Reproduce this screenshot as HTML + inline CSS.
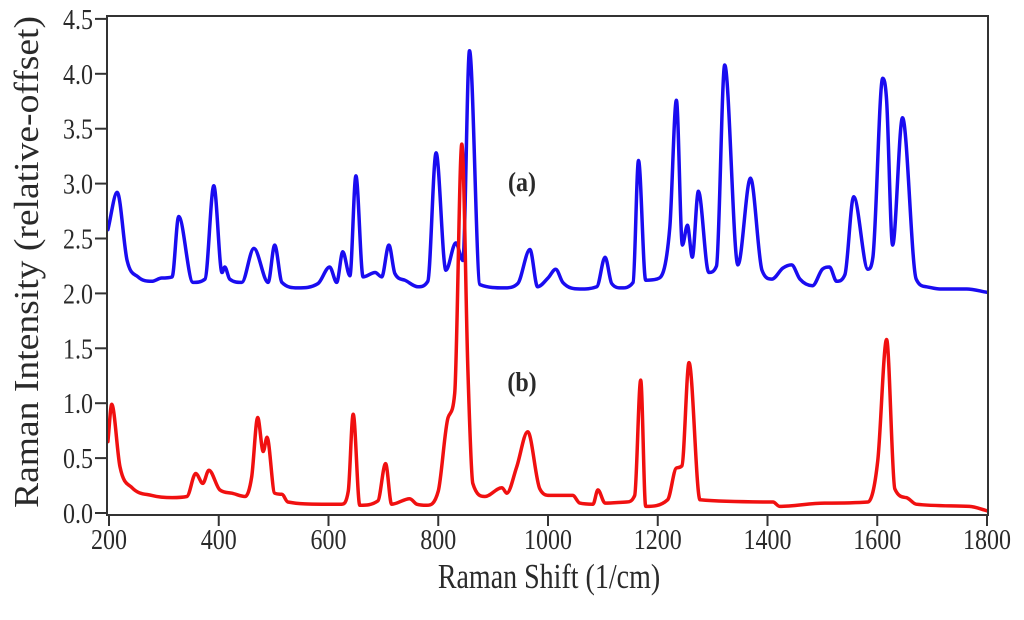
<!DOCTYPE html>
<html><head><meta charset="utf-8"><style>
body{margin:0;background:#fff}
svg text{font-family:"Liberation Serif",serif;fill:#2a2a2a}
</style></head><body>
<svg id="chart" width="1024" height="615" viewBox="0 0 1024 615" xmlns="http://www.w3.org/2000/svg">
<g id="axes"></g>
<g id="series"></g>
<rect x="107" y="16" width="881" height="499" fill="none" stroke="#333" stroke-width="2"/>
<text transform="translate(522,191) scale(1,1.15)" font-size="24" font-weight="bold" text-anchor="middle">(a)</text>
<text transform="translate(522,391) scale(1,1.15)" font-size="24" font-weight="bold" text-anchor="middle">(b)</text>
<text transform="translate(549,588) scale(1,1.25)" font-size="28" text-anchor="middle">Raman Shift (1/cm)</text>
<text transform="translate(38,262) rotate(-90)" font-size="35" textLength="492" lengthAdjust="spacingAndGlyphs" text-anchor="middle">Raman Intensity (relative-offset)</text>
</svg>
<script>
const xTicks=[200,400,600,800,1000,1200,1400,1600,1800];
const yTicks=[0.0,0.5,1.0,1.5,2.0,2.5,3.0,3.5,4.0,4.5];
const blueX=[198,215,233,253,278,296,315,327,353,375,391,406,411,420,442,464,490,502,515,544,581,602,615,626,639,650,663,685,697,710,721,739,763,781,796,814,832,845,857,876,921,945,967,981,1000,1014,1027,1058,1089,1104,1116,1134,1155,1165,1178,1198,1222,1234,1245,1254,1263,1274,1293,1307,1322,1346,1369,1390,1408,1428,1444,1459,1482,1500,1513,1526,1541,1557,1583,1592,1610,1617,1628,1646,1671,1690,1714,1763,1800];
const blueY=[2.58,2.92,2.30,2.15,2.11,2.14,2.15,2.70,2.10,2.13,2.98,2.19,2.24,2.13,2.10,2.41,2.10,2.44,2.10,2.05,2.09,2.24,2.10,2.38,2.16,3.07,2.15,2.19,2.15,2.44,2.18,2.12,2.06,2.11,3.28,2.21,2.46,2.30,4.21,2.08,2.05,2.09,2.40,2.06,2.14,2.22,2.10,2.04,2.06,2.33,2.09,2.05,2.10,3.21,2.12,2.13,2.60,3.76,2.44,2.62,2.33,2.93,2.19,2.25,4.08,2.26,3.05,2.21,2.13,2.23,2.26,2.13,2.07,2.22,2.24,2.11,2.17,2.88,2.22,2.33,3.96,3.76,2.44,3.60,2.13,2.06,2.04,2.04,2.01];
const redX=[198,205,220,242,278,315,342,358,371,382,402,424,448,460,471,481,488,502,515,526,588,624,636,645,657,690,704,715,748,761,779,800,818,830,843,854,863,885,916,925,943,963,985,1003,1045,1058,1082,1091,1104,1143,1158,1169,1178,1218,1234,1244,1257,1277,1410,1422,1504,1583,1601,1617,1632,1653,1671,1768,1800];
const redY=[0.65,0.99,0.42,0.23,0.16,0.14,0.15,0.36,0.27,0.39,0.21,0.18,0.15,0.33,0.87,0.56,0.69,0.18,0.17,0.10,0.08,0.08,0.20,0.90,0.07,0.11,0.45,0.08,0.13,0.08,0.07,0.20,0.87,1.09,3.36,1.30,0.27,0.15,0.23,0.18,0.42,0.74,0.22,0.16,0.16,0.09,0.08,0.21,0.09,0.10,0.16,1.21,0.06,0.12,0.41,0.43,1.37,0.12,0.10,0.06,0.09,0.10,0.48,1.58,0.22,0.14,0.08,0.06,0.02];
const NS='http://www.w3.org/2000/svg';
function sx(v){return 109+(v-200)*878/1600;}
function sy(v){return 513-v*109.8;}
const axes=document.getElementById('axes'), series=document.getElementById('series');
function mk(tag,attrs,parent){const e=document.createElementNS(NS,tag);for(const k in attrs)e.setAttribute(k,attrs[k]);parent.appendChild(e);return e;}
xTicks.forEach(t=>{
  const l=mk('line',{x1:sx(t),x2:sx(t),y1:516,y2:526,stroke:'#333','stroke-width':2},axes);
  
  
  const tx=mk('text',{transform:'translate('+sx(t)+',549) scale(1,1.2)','font-size':24,'text-anchor':'middle'},axes);
  tx.textContent=String(t);
  
  
});
yTicks.forEach(t=>{
  const l=mk('line',{x1:95,x2:106,y1:sy(t),y2:sy(t),stroke:'#333','stroke-width':2},axes);
  
  
  const tx=mk('text',{transform:'translate(93,'+(sy(t)+10)+') scale(1,1.2)','font-size':24,'text-anchor':'end'},axes);
  tx.textContent=t.toFixed(1);
  
  
});
function monoPath(px,py){
  const n=px.length,d=[],m=[];
  for(let i=0;i<n-1;i++)d.push((py[i+1]-py[i])/(px[i+1]-px[i]));
  m[0]=d[0];m[n-1]=d[n-2];
  for(let i=1;i<n-1;i++){m[i]=(d[i-1]*d[i]<=0)?0:(d[i-1]+d[i])/2;}
  for(let i=0;i<n-1;i++){
    if(d[i]===0){m[i]=0;m[i+1]=0;continue;}
    const a=m[i]/d[i],b=m[i+1]/d[i],s=a*a+b*b;
    if(s>9){const t=3/Math.sqrt(s);m[i]=t*a*d[i];m[i+1]=t*b*d[i];}
  }
  let s='M'+px[0].toFixed(1)+','+py[0].toFixed(1);
  for(let i=0;i<n-1;i++){
    const h=(px[i+1]-px[i])/3;
    s+='C'+(px[i]+h).toFixed(1)+','+(py[i]+m[i]*h).toFixed(1)+' '+(px[i+1]-h).toFixed(1)+','+(py[i+1]-m[i+1]*h).toFixed(1)+' '+px[i+1].toFixed(1)+','+py[i+1].toFixed(1);
  }
  return s;
}
function line(xs,ys,color,name){
  const d=monoPath(xs.map(sx),ys.map(sy));
  const p=mk('path',{d:d,fill:'none',stroke:color,'stroke-width':3.5,'stroke-linejoin':'round','stroke-linecap':'round'},series);
  
  
}
line(blueX,blueY,'#1a0cf0','series-a-line');
line(redX,redY,'#f01010','series-b-line');
</script>
</body></html>
